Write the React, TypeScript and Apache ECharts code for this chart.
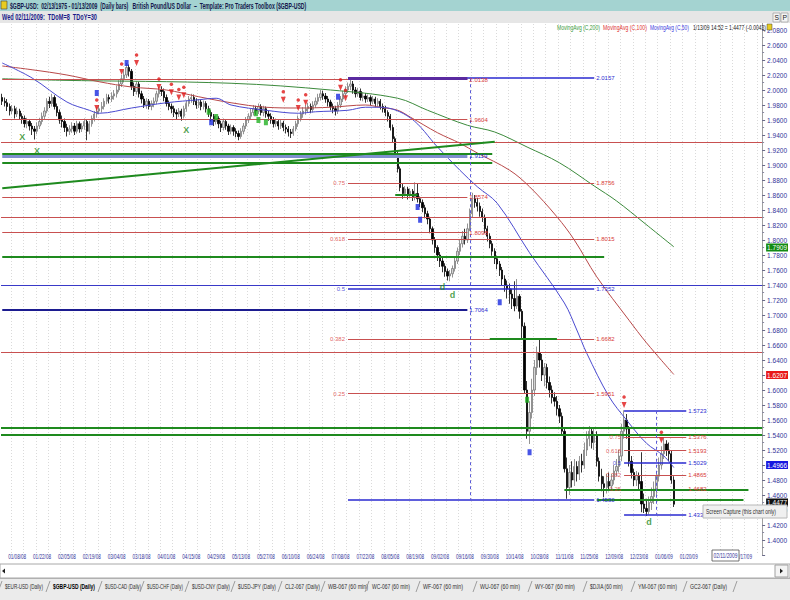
import React, { useEffect, useRef } from 'react';
import * as echarts from 'echarts';

const FONT = "'Liberation Sans', Arial, sans-serif";

const TITLE = '$GBP-USD:  02/13/1975 - 01/13/2009  (Daily bars)   British Pound/US Dollar  \u2013  Template: Pro Traders Toolbox ($GBP-USD)';
const SUBTITLE = 'Wed 02/11/2009:  TDoM=8  TDoY=30';
const LEGEND_MA200 = 'MovingAvg (C,200)';
const LEGEND_MA100 = 'MovingAvg (C,100)';
const LEGEND_MA50 = 'MovingAvg (C,50)';
const LAST_QUOTE = '1/13/09 14:52 = 1.4477 (-0.0043)';
const TOOLTIP_TEXT = 'Screen Capture (this chart only)';
const CURSOR_DATE = '02/11/2009';
const HIDDEN_DATE = '02/17/09';

const xTickLabels = ['01/08/08', '01/22/08', '02/05/08', '02/19/08', '03/04/08', '03/18/08', '04/01/08', '04/15/08', '04/29/08', '05/13/08', '05/27/08', '06/10/08', '06/24/08', '07/08/08', '07/22/08', '08/05/08', '08/19/08', '09/02/08', '09/16/08', '09/30/08', '10/14/08', '10/28/08', '11/11/08', '11/25/08', '12/09/08', '12/23/08', '01/06/09', '01/20/09'];

const tabNames = ['$EUR-USD (Daily)', '$GBP-USD (Daily)', '$USD-CAD (Daily)', '$USD-CHF (Daily)', '$USD-CNY (Daily)', '$USD-JPY (Daily)', 'CL2-067 (Daily)', 'WB-067 (60 min)', 'WC-067 (60 min)', 'WF-067 (60 min)', 'WU-067 (60 min)', 'WY-067 (60 min)', '$DJIA (60 min)', 'YM-067 (60 min)', 'GC2-067 (Daily)'];

// [open, close, low, high]
const ohlcWinter = [
  [1.990,1.985,1.980,1.995],[1.985,1.983,1.978,1.990],[1.983,1.978,1.972,1.988],[1.978,1.972,1.966,1.982],[1.972,1.975,1.968,1.980],
  [1.975,1.968,1.962,1.979],[1.968,1.972,1.964,1.977],[1.972,1.965,1.960,1.975],[1.965,1.962,1.955,1.969],[1.962,1.955,1.950,1.966],
  [1.955,1.958,1.949,1.963],[1.958,1.952,1.946,1.961],[1.952,1.948,1.940,1.956],[1.948,1.945,1.934,1.952],[1.945,1.952,1.941,1.957],
  [1.952,1.958,1.948,1.963],[1.958,1.965,1.954,1.970],[1.965,1.972,1.961,1.977],[1.972,1.985,1.969,1.989],[1.985,1.982,1.976,1.991],
  [1.982,1.990,1.978,1.995],[1.990,1.978,1.974,1.993],[1.978,1.970,1.965,1.982],[1.970,1.960,1.955,1.974],[1.960,1.958,1.950,1.966],
  [1.958,1.950,1.944,1.962],[1.950,1.945,1.938,1.955],[1.945,1.948,1.940,1.953],[1.948,1.952,1.943,1.957],[1.952,1.945,1.940,1.956],
  [1.945,1.955,1.942,1.959],[1.955,1.948,1.943,1.958],[1.948,1.952,1.944,1.956],[1.952,1.958,1.947,1.962],[1.958,1.945,1.933,1.960],
  [1.945,1.955,1.941,1.959],[1.955,1.962,1.951,1.966],[1.962,1.968,1.958,1.972],[1.968,1.972,1.963,1.977],[1.972,1.975,1.968,1.980],
  [1.975,1.978,1.970,1.984],[1.978,1.985,1.974,1.989],[1.985,1.990,1.981,1.995],[1.990,1.988,1.982,1.994],[1.988,1.992,1.984,1.997],
  [1.992,1.995,1.987,2.000],[1.995,2.000,1.990,2.006],[2.000,2.008,1.997,2.013],[2.008,2.015,2.004,2.020],[2.015,2.020,2.010,2.027],
  [2.020,2.030,2.016,2.036],[2.030,2.025,2.018,2.034],[2.025,2.005,2.000,2.028],[2.005,1.998,1.992,2.010],[1.998,2.008,1.994,2.012],
  [2.008,1.995,1.990,2.011],[1.995,1.988,1.982,1.999],[1.988,1.980,1.976,1.992],[1.980,1.985,1.975,1.989],[1.985,1.978,1.974,1.988],
  [1.978,1.982,1.973,1.986],[1.982,1.985,1.977,1.990],[1.985,1.995,1.981,1.999],[1.995,2.000,1.990,2.004],[2.000,1.998,1.992,2.005],
];
const ohlcSpring = [
  [1.998,1.990,1.985,2.002],[1.990,1.982,1.978,1.994],[1.982,1.978,1.973,1.986],[1.978,1.975,1.969,1.982],[1.975,1.970,1.964,1.979],
  [1.970,1.968,1.961,1.974],[1.968,1.972,1.964,1.976],[1.972,1.965,1.959,1.975],[1.965,1.975,1.962,1.979],[1.975,1.982,1.971,1.986],
  [1.982,1.988,1.978,1.992],[1.988,1.990,1.983,1.995],[1.990,1.985,1.980,1.994],[1.985,1.980,1.975,1.989],[1.980,1.984,1.976,1.988],
  [1.984,1.978,1.973,1.987],[1.978,1.982,1.974,1.986],[1.982,1.975,1.970,1.985],[1.975,1.970,1.964,1.979],[1.970,1.965,1.958,1.973],
  [1.965,1.958,1.952,1.968],[1.958,1.962,1.954,1.966],[1.962,1.955,1.949,1.965],[1.955,1.950,1.944,1.959],[1.950,1.958,1.946,1.962],
  [1.958,1.952,1.947,1.961],[1.952,1.945,1.940,1.955],[1.945,1.950,1.941,1.954],[1.950,1.945,1.939,1.953],[1.945,1.942,1.937,1.949],
  [1.942,1.938,1.933,1.946],[1.938,1.945,1.935,1.949],[1.945,1.952,1.941,1.956],[1.952,1.960,1.948,1.964],[1.960,1.965,1.956,1.969],
  [1.965,1.970,1.961,1.975],[1.970,1.975,1.966,1.980],[1.975,1.972,1.967,1.979],[1.972,1.978,1.968,1.982],[1.978,1.970,1.966,1.981],
  [1.970,1.975,1.965,1.979],[1.975,1.968,1.963,1.978],[1.968,1.965,1.959,1.972],[1.965,1.960,1.955,1.969],[1.960,1.955,1.950,1.964],
  [1.955,1.958,1.951,1.962],[1.958,1.952,1.947,1.961],[1.952,1.956,1.948,1.960],[1.956,1.950,1.945,1.959],[1.950,1.948,1.942,1.954],
  [1.948,1.944,1.938,1.952],[1.944,1.942,1.936,1.948],[1.942,1.948,1.939,1.952],[1.948,1.955,1.945,1.959],[1.955,1.962,1.951,1.966],
  [1.962,1.968,1.958,1.972],[1.968,1.972,1.963,1.977],[1.972,1.975,1.967,1.980],[1.975,1.978,1.970,1.983],[1.978,1.974,1.969,1.982],
  [1.974,1.980,1.970,1.985],[1.980,1.985,1.976,1.990],[1.985,1.990,1.981,1.995],[1.990,1.995,1.986,2.000],[1.995,1.992,1.987,1.999],
];
const ohlcSummer = [
  [1.992,1.988,1.983,1.996],[1.988,1.984,1.978,1.992],[1.984,1.978,1.973,1.987],[1.978,1.975,1.969,1.982],[1.975,1.972,1.966,1.979],
  [1.972,1.980,1.968,1.984],[1.980,1.988,1.976,1.992],[1.988,1.995,1.984,1.999],[1.995,2.000,1.991,2.005],[2.000,2.005,1.996,2.010],
  [2.005,2.008,2.000,2.016],[2.008,2.000,1.995,2.012],[2.000,1.995,1.990,2.004],[1.995,1.998,1.991,2.003],[1.998,1.990,1.986,2.002],
  [1.990,1.992,1.985,1.997],[1.992,1.988,1.983,1.996],[1.988,1.990,1.984,1.994],[1.990,1.985,1.980,1.993],[1.985,1.988,1.981,1.992],
  [1.988,1.982,1.977,1.991],[1.982,1.985,1.978,1.989],[1.985,1.978,1.974,1.988],[1.978,1.975,1.970,1.982],[1.975,1.970,1.965,1.979],
  [1.970,1.965,1.958,1.973],[1.965,1.950,1.946,1.968],[1.950,1.935,1.930,1.954],[1.935,1.915,1.910,1.938],[1.915,1.895,1.890,1.918],
  [1.895,1.870,1.865,1.898],[1.870,1.862,1.855,1.875],[1.862,1.868,1.858,1.872],[1.868,1.860,1.854,1.871],[1.860,1.865,1.856,1.869],
  [1.865,1.858,1.852,1.868],[1.858,1.862,1.853,1.877],[1.862,1.855,1.850,1.875],[1.855,1.850,1.844,1.858],[1.850,1.843,1.837,1.854],
  [1.843,1.835,1.829,1.847],[1.835,1.828,1.821,1.839],[1.828,1.815,1.809,1.831],[1.815,1.800,1.794,1.818],[1.800,1.790,1.783,1.804],
  [1.790,1.780,1.772,1.793],[1.780,1.772,1.764,1.784],[1.772,1.765,1.757,1.776],[1.765,1.758,1.751,1.769],[1.758,1.752,1.746,1.762],
  [1.752,1.755,1.745,1.760],[1.755,1.762,1.750,1.766],[1.762,1.772,1.758,1.777],[1.772,1.785,1.768,1.790],[1.785,1.795,1.780,1.800],
  [1.795,1.805,1.790,1.812],[1.805,1.800,1.794,1.815],[1.800,1.815,1.796,1.822],[1.815,1.835,1.812,1.842],[1.835,1.855,1.830,1.863],
  [1.855,1.850,1.843,1.860],[1.850,1.845,1.838,1.856],[1.845,1.838,1.831,1.850],[1.838,1.830,1.824,1.842],[1.830,1.815,1.809,1.834],
  [1.815,1.805,1.798,1.819],[1.805,1.795,1.789,1.809],[1.795,1.785,1.779,1.799],[1.785,1.775,1.768,1.789],[1.775,1.768,1.761,1.779],
];
const ohlcAutumn = [
  [1.768,1.760,1.752,1.772],[1.760,1.748,1.740,1.764],[1.748,1.740,1.731,1.753],[1.740,1.735,1.722,1.746],[1.735,1.728,1.715,1.742],
  [1.728,1.722,1.708,1.735],[1.722,1.712,1.705,1.745],[1.712,1.725,1.708,1.748],[1.725,1.705,1.695,1.728],[1.705,1.685,1.668,1.708],
  [1.685,1.600,1.595,1.690],[1.600,1.545,1.535,1.612],[1.545,1.570,1.528,1.585],[1.570,1.600,1.562,1.615],[1.600,1.630,1.592,1.640],
  [1.630,1.650,1.620,1.658],[1.650,1.640,1.630,1.667],[1.640,1.620,1.612,1.648],[1.620,1.630,1.605,1.636],[1.630,1.610,1.602,1.635],
  [1.610,1.600,1.590,1.618],[1.600,1.590,1.582,1.606],[1.590,1.585,1.578,1.597],[1.585,1.575,1.566,1.592],[1.575,1.565,1.556,1.580],
  [1.565,1.545,1.540,1.570],[1.545,1.495,1.490,1.550],[1.495,1.470,1.455,1.510],[1.470,1.490,1.460,1.500],[1.490,1.480,1.470,1.505],
  [1.480,1.498,1.472,1.508],[1.498,1.488,1.478,1.505],[1.488,1.505,1.480,1.512],[1.505,1.500,1.490,1.515],[1.500,1.520,1.495,1.530],
  [1.520,1.535,1.512,1.545],[1.535,1.545,1.525,1.552],[1.545,1.530,1.522,1.550],[1.530,1.540,1.520,1.548],[1.540,1.505,1.498,1.545],
  [1.505,1.485,1.478,1.510],[1.485,1.475,1.465,1.495],[1.475,1.470,1.457,1.485],[1.470,1.478,1.462,1.488],[1.478,1.472,1.465,1.490],
  [1.472,1.480,1.466,1.488],[1.480,1.492,1.474,1.500],[1.492,1.498,1.485,1.508],[1.498,1.512,1.490,1.520],[1.512,1.545,1.505,1.555],
  [1.545,1.560,1.535,1.573],[1.560,1.548,1.535,1.568],[1.548,1.505,1.498,1.552],[1.505,1.490,1.482,1.512],[1.490,1.480,1.472,1.495],
  [1.480,1.486,1.472,1.492],[1.486,1.475,1.468,1.490],[1.478,1.448,1.437,1.517],[1.448,1.442,1.436,1.462],[1.442,1.438,1.432,1.455],
  [1.438,1.450,1.434,1.458],[1.450,1.458,1.440,1.470],[1.458,1.468,1.448,1.478],[1.468,1.485,1.460,1.492],[1.485,1.500,1.478,1.510],
  [1.500,1.515,1.494,1.525],[1.515,1.528,1.508,1.536],[1.528,1.520,1.512,1.533],[1.520,1.515,1.505,1.530],[1.515,1.480,1.475,1.520],
  [1.480,1.4477,1.444,1.485],
];

// moving averages: [bar index, value]
const ma50Points = [[0,2.036],[12,2.016],[26,1.984],[35,1.973],[39,1.969],[52,1.976],[66,1.983],[79,1.987],[86,1.989],[92,1.980],[106,1.973],[119,1.969],[126,1.971],[139,1.973],[146,1.977],[152,1.977],[164,1.963],[175,1.924],[184,1.893],[191,1.871],[199,1.849],[212,1.783],[226,1.716],[231,1.680],[235,1.649],[244,1.591],[251,1.560],[259,1.529],[266,1.512],[270,1.4966]];
const ma100Points = [[0,2.032],[12,2.027],[26,2.020],[39,2.011],[52,2.004],[66,2.000],[79,1.991],[92,1.983],[106,1.977],[119,1.976],[132,1.977],[146,1.980],[152,1.977],[159,1.973],[164,1.964],[175,1.943],[184,1.929],[191,1.916],[204,1.893],[212,1.871],[223,1.831],[230,1.800],[239,1.751],[252,1.693],[259,1.663],[270,1.6207]];
const ma200Points = [[0,2.015],[23,2.013],[92,2.009],[132,2.000],[159,1.989],[171,1.973],[187,1.953],[198,1.944],[211,1.924],[224,1.903],[238,1.872],[247,1.852],[258,1.823],[270,1.7909]];

const ma200Last = 1.7909;
const ma100Last = 1.6207;
const ma50Last = 1.4966;
const closeLast = 1.4477;

// horizontal levels: [from bar, to bar, price, end label]
const redLevels = [
  [0, 187, 2.0138, '2.0138'], [0, 187, 1.9604, '1.9604'], [0, 187, 1.8574, '1.8574'], [0, 187, 1.8098, '1.8098'],
  [139, 238, 1.8756, '1.8756'], [139, 238, 1.8015, '1.8015'], [139, 238, 1.6682, '1.6682'], [139, 238, 1.5951, '1.5951'],
  [250, 275, 1.5376, '1.5376'], [250, 275, 1.5193, '1.5193'], [250, 275, 1.4865, '1.4865'], [250, 275, 1.4682, '1.4682'],
];
const redFullLevels = [1.9280, 1.8290, 1.6533];
const blueLevels = [
  [139, 238, 2.0157, '2.0157'], [139, 238, 1.7352, '1.7352'], [139, 238, 1.4530, '1.4530'],
  [250, 275, 1.5723, '1.5723'], [250, 275, 1.5029, '1.5029'], [250, 275, 1.4335, '1.4335'],
];
const blueFullLevels = [1.7413];
const navyLevels = [[0, 187, 1.7064, '1.7064']];
const purpleLevels = [[139, 187, 2.0160, '']];
const steelLevels = [[0, 187, 1.9119, '1.9119']];
const greenLevels = [
  [0, 197, 1.9155, ''], [0, 197, 1.9027, ''], [0, 242, 1.7773, ''], [158, 167, 1.8610, ''],
  [196, 223, 1.6690, ''], [226, 300, 1.4670, ''], [239, 298, 1.4533, ''],
];
const greenFullLevels = [1.5547, 1.5400];
const greenTrend = [[0, 1.869], [198, 1.931]];
const dashedVerticals = [[188, 2.0157, 1.4530], [263, 1.5723, 1.4335]];
const redRatioLabels = [[139, 1.8756, '0.75'], [139, 1.8015, '0.618'], [139, 1.6682, '0.382'], [139, 1.5951, '0.25'], [250, 1.5376, '0.75'], [250, 1.5193, '0.618'], [250, 1.4865, '0.382'], [250, 1.4682, '0.25']];
const blueRatioLabels = [[139, 1.7352, '0.5'], [250, 1.5029, '0.5']];

// signal markers: [bar, price]
const redSignals = [[38,1.976],[48,2.024],[54,2.036],[63,2.004],[68,1.997],[71,1.990],[73,1.993],[113,1.987],[119,1.976],[122,1.983],[136,2.003],[138,1.989],[250,1.580],[265,1.533]];
const blueSquares = [[38,1.996],[50,2.036],[84,1.957],[135,1.991],[167,1.844],[168,1.827],[200,1.717],[212,1.517]];
const greenSquares = [[83,1.971],[86,1.964],[102,1.969],[103,1.960],[106,1.957],[211,1.587]];
const greenLetters = [[8,1.937,'X'],[14,1.919,'X'],[74,1.947,'X'],[177,1.737,'d'],[181,1.727,'d'],[260,1.424,'d']];

const CATEGORY_COUNT = 306;

function buildDates(): string[] {
  const out: string[] = [];
  const d = new Date(2007, 11, 31);
  while (out.length < CATEGORY_COUNT) {
    const wd = d.getDay();
    if (wd !== 0 && wd !== 6) {
      const mm = String(d.getMonth() + 1).padStart(2, '0');
      const dd = String(d.getDate()).padStart(2, '0');
      const yy = String(d.getFullYear() % 100).padStart(2, '0');
      out.push(`${mm}/${dd}/${yy}`);
    }
    d.setDate(d.getDate() + 1);
  }
  return out;
}

let measureCtx: CanvasRenderingContext2D | null = null;
function textWidth(text: string, size: number, weight: string): number {
  if (!measureCtx) measureCtx = document.createElement('canvas').getContext('2d');
  if (!measureCtx) return text.length * size * 0.5;
  measureCtx.font = `${weight} ${size}px ${FONT}`;
  return measureCtx.measureText(text).width;
}

// text squeezed horizontally to the width it takes in the reference
function fitText(x: number, y: number, text: string, width: number, size: number, fill: string, weight = 'normal', align = 'left', z = 101) {
  const w = textWidth(text, size, weight);
  const s = w > 0 ? Math.min(1.1, width / w) : 1;
  return {
    type: 'text', x, y, z, scaleX: s,
    style: { text, fill, fontSize: size, fontWeight: weight, fontFamily: FONT, verticalAlign: 'top', align },
  };
}

function segLines(list: any[], color: string, width: number, labelColor: string) {
  return list.map((l) => [
    {
      coord: [l[0], l[2]],
      lineStyle: { color, width, type: 'solid' },
      label: { show: !!l[3], position: 'end', formatter: l[3] || '', color: labelColor, fontSize: 6, fontFamily: FONT, distance: 2 },
    },
    { coord: [l[1], l[2]] },
  ]);
}

function fullLines(list: number[], color: string, width: number) {
  return list.map((p) => ({ yAxis: p, lineStyle: { color, width, type: 'solid' }, label: { show: false } }));
}

export default function App() {
  const ref = useRef<HTMLDivElement>(null);
  useEffect(() => {
    const chart = echarts.init(ref.current!, null, { renderer: 'svg' });
    const dates = buildDates();
    const ohlc = [...ohlcWinter, ...ohlcSpring, ...ohlcSummer, ...ohlcAutumn];

    const levelLines = [
      ...fullLines(redFullLevels, '#c85050', 1),
      ...fullLines(blueFullLevels, '#3a3ac8', 1),
      ...fullLines(greenFullLevels, '#1e8a1e', 2),
      ...segLines(redLevels, '#c85050', 1, '#d83838'),
      ...segLines(blueLevels, '#2a2ad0', 1.6, '#2a2ad0'),
      ...segLines(navyLevels, '#1c1c90', 2, '#2a2ad0'),
      ...segLines(steelLevels, '#7f8fcf', 3, '#2a2ad0'),
      ...segLines(purpleLevels, '#5a2aa0', 3, '#5a2aa0'),
      ...segLines(greenLevels, '#1e8a1e', 2, '#1e8a1e'),
      [
        { coord: greenTrend[0], lineStyle: { color: '#1e8a1e', width: 2, type: 'solid' }, label: { show: false } },
        { coord: greenTrend[1] },
      ],
      ...dashedVerticals.map((v) => [
        { coord: [v[0], v[1]], lineStyle: { color: '#5a5ad8', width: 1, type: [3, 3] }, label: { show: false } },
        { coord: [v[0], v[2]] },
      ]),
    ];

    const boxLabel = (value: number, bg: string) => ({
      yAxis: value,
      lineStyle: { color: 'rgba(0,0,0,0)', width: 0 },
      label: {
        show: true, position: 'end', formatter: value.toFixed(4), color: '#ffffff', backgroundColor: bg,
        fontSize: 6.5, fontFamily: FONT, padding: [1, 1, 0, 1], distance: 4,
      },
    });

    const tabLayout = [[5, 38], [53, 42], [105, 36], [147, 36], [192, 38], [238, 38], [285, 35], [328, 40], [372, 38], [423, 40], [480, 40], [535, 40], [590, 33], [638, 39], [690, 37]];

    const baseGraphic: any[] = [
      { type: 'rect', z: 100, shape: { x: 0, y: 0, width: 790, height: 11 }, style: { fill: '#a4d3d1' } },
      { type: 'rect', z: 101, shape: { x: 1, y: 1, width: 6, height: 8 }, style: { fill: '#e8cc20', stroke: '#404040', lineWidth: 0.6 } },
      fitText(10, 1.5, TITLE, 297, 8.5, '#14184a', 'bold'),
      { type: 'rect', z: 100, shape: { x: 0, y: 11, width: 790, height: 12 }, style: { fill: '#e6e6e6' } },
      fitText(2, 13, SUBTITLE, 95, 8.5, '#1a1a8a', 'bold'),
      { type: 'rect', z: 101, shape: { x: 773, y: 13, width: 7, height: 9 }, style: { fill: '#f4f4f4', stroke: '#909090', lineWidth: 0.6 } },
      { type: 'rect', z: 101, shape: { x: 781, y: 13, width: 7, height: 9 }, style: { fill: '#f4f4f4', stroke: '#909090', lineWidth: 0.6 } },
      fitText(774.5, 14, 'S', 4.5, 7, '#202020'),
      fitText(782.5, 14, 'P', 4.5, 7, '#202020'),
      fitText(557, 24, LEGEND_MA200, 43, 7, '#3a9a3a'),
      fitText(603, 24, LEGEND_MA100, 44, 7, '#e03030'),
      fitText(650, 24, LEGEND_MA50, 39, 7, '#3a3ae0'),
      fitText(693, 24, LAST_QUOTE, 73, 7, '#202020'),
      { type: 'rect', z: 101, shape: { x: 767, y: 24, width: 5, height: 6 }, style: { fill: '#e8cc20', stroke: '#404040', lineWidth: 0.5 } },
      // tooltip
      { type: 'rect', z: 100, shape: { x: 703, y: 505, width: 84, height: 13 }, style: { fill: '#f0f0f0', stroke: '#b8b8b8', lineWidth: 1 } },
      fitText(706, 507, TOOLTIP_TEXT, 70, 8, '#303030'),
      // scrollbar
      { type: 'rect', z: 100, shape: { x: 0, y: 564, width: 790, height: 14 }, style: { fill: '#ffffff', stroke: '#a8a8a8', lineWidth: 1 } },
      { type: 'polygon', z: 101, shape: { points: [[2, 571], [5, 568.5], [5, 573.5]] }, style: { fill: '#202020' } },
      { type: 'rect', z: 101, shape: { x: 775, y: 565, width: 13, height: 12 }, style: { fill: '#f4f4f4', stroke: '#a0a0a0', lineWidth: 1 } },
      { type: 'polygon', z: 102, shape: { points: [[783, 571], [780, 568.5], [780, 573.5]] }, style: { fill: '#202020' } },
      // tabs
      { type: 'rect', z: 100, shape: { x: 0, y: 578, width: 790, height: 22 }, style: { fill: '#ebebeb' } },
      { type: 'line', z: 101, shape: { x1: 0, y1: 578.5, x2: 790, y2: 578.5 }, style: { stroke: '#b0b0b0', lineWidth: 1 } },
      ...tabNames.map((t, i) => fitText(tabLayout[i][0], 582, t, tabLayout[i][1], 7.5, i === 1 ? '#000000' : '#303030', i === 1 ? 'bold' : 'normal')),
      ...tabNames.map((_, i) => ({ type: 'line', z: 101, shape: { x1: tabLayout[i][0] - 7, y1: 592, x2: tabLayout[i][0] - 3, y2: 581 }, style: { stroke: '#8a8a8a', lineWidth: 0.8 } })),
      { type: 'line', z: 101, shape: { x1: 733, y1: 592, x2: 737, y2: 581 }, style: { stroke: '#8a8a8a', lineWidth: 0.8 } },
    ];

    const option: any = {
      animation: false,
      backgroundColor: '#ffffff',
      grid: { left: 1, right: 25, top: 15, bottom: 45 },
      xAxis: {
        type: 'category', data: dates, boundaryGap: true,
        axisLine: { show: false }, axisTick: { show: false },
        axisLabel: { show: false },
        splitLine: { show: true, interval: (i: number) => i % 5 === 4, lineStyle: { color: '#dadada', type: [1, 2], width: 1 } },
      },
      yAxis: {
        type: 'value', position: 'right', min: 1.38, max: 2.10, interval: 0.02,
        axisLine: { show: true, lineStyle: { color: '#a0a0a0' } },
        axisTick: { show: true, length: 3, lineStyle: { color: '#6a6a8a' } },
        minorTick: { show: true, splitNumber: 2, length: 2, lineStyle: { color: '#8a8aa0' } },
        splitLine: { show: false },
        axisLabel: {
          fontSize: 6.5, color: '#333399', fontFamily: FONT, margin: 5,
          formatter: (v: number) => (v < 1.399 || v > 2.081 ? '' : v.toFixed(4)),
        },
      },
      graphic: baseGraphic,
      series: [
        {
          type: 'line', name: 'levels', data: [], z: 2, silent: true,
          markLine: { silent: true, symbol: ['none', 'none'], animation: false, data: levelLines },
        },
        {
          type: 'candlestick', name: '$GBP-USD', data: ohlc, barWidth: 1.8, z: 3,
          itemStyle: { color: '#d4d4d4', color0: '#000000', borderColor: '#7a7a7a', borderColor0: '#000000', borderWidth: 0.8 },
          markLine: { silent: true, symbol: ['none', 'none'], animation: false, data: [boxLabel(closeLast, '#101010')] },
        },
        {
          type: 'line', name: 'MA200', data: ma200Points, smooth: 0.35, showSymbol: false, z: 4,
          lineStyle: { color: '#3c8a3c', width: 1 },
          markLine: { silent: true, symbol: ['none', 'none'], animation: false, data: [boxLabel(ma200Last, '#128a12')] },
        },
        {
          type: 'line', name: 'MA100', data: ma100Points, smooth: 0.35, showSymbol: false, z: 4,
          lineStyle: { color: '#b84848', width: 1 },
          markLine: { silent: true, symbol: ['none', 'none'], animation: false, data: [boxLabel(ma100Last, '#e81818')] },
        },
        {
          type: 'line', name: 'MA50', data: ma50Points, smooth: 0.35, showSymbol: false, z: 4,
          lineStyle: { color: '#4a4ad0', width: 1 },
          markLine: { silent: true, symbol: ['none', 'none'], animation: false, data: [boxLabel(ma50Last, '#1818e0')] },
        },
        {
          type: 'scatter', name: 'ratioRed', data: redRatioLabels, symbolSize: 0, z: 5, silent: true,
          label: { show: true, position: 'left', distance: 3, formatter: (p: any) => p.value[2], color: '#d83838', fontSize: 6, fontFamily: FONT },
        },
        {
          type: 'scatter', name: 'ratioBlue', data: blueRatioLabels, symbolSize: 0, z: 5, silent: true,
          label: { show: true, position: 'left', distance: 3, formatter: (p: any) => p.value[2], color: '#2a2ad0', fontSize: 6, fontFamily: FONT },
        },
        {
          type: 'scatter', name: 'sellArrow', data: redSignals, symbol: 'triangle', symbolRotate: 180, symbolSize: [5, 6], z: 6,
          itemStyle: { color: '#e01818' },
        },
        {
          type: 'scatter', name: 'sellDot', data: redSignals, symbol: 'circle', symbolSize: 3.5, symbolOffset: [0, -8], z: 6,
          itemStyle: { color: '#e01818' },
        },
        {
          type: 'scatter', name: 'blueSq', data: blueSquares, symbol: 'rect', symbolSize: [4, 6], z: 6,
          itemStyle: { color: '#1a2ae0' },
        },
        {
          type: 'scatter', name: 'greenSq', data: greenSquares, symbol: 'rect', symbolSize: [4, 6], z: 6,
          itemStyle: { color: '#22b022' },
        },
        {
          type: 'scatter', name: 'greenLetters', data: greenLetters, symbolSize: 0, z: 6, silent: true,
          label: { show: true, position: 'inside', formatter: (p: any) => p.value[2], color: '#1e8a1e', fontSize: 9, fontWeight: 'bold', fontFamily: FONT },
        },
      ],
    };
    chart.setOption(option);

    // date labels placed through the category axis scale
    const dateLabels: any[] = [];
    xTickLabels.forEach((lbl) => {
      const px = chart.convertToPixel({ xAxisIndex: 0 }, lbl) as number;
      if (typeof px === 'number' && isFinite(px)) {
        dateLabels.push(fitText(px, 553, lbl, 18, 7, '#333399', 'normal', 'center', 90));
      }
    });
    const cursorGraphic: any[] = [
      fitText(752, 553, HIDDEN_DATE, 18, 7, '#333399', 'normal', 'right', 90),
      { type: 'rect', z: 102, shape: { x: 712, y: 550, width: 27, height: 11 }, style: { fill: '#ffffff', stroke: '#505050', lineWidth: 0.8 } },
      fitText(713.5, 552.5, CURSOR_DATE, 24, 7, '#333399', 'normal', 'left', 103),
    ];
    chart.setOption({ graphic: [...baseGraphic, ...dateLabels, ...cursorGraphic] });

    return () => chart.dispose();
  }, []);
  return <div ref={ref} style={{ position: 'fixed', left: 0, top: 0, width: 790, height: 600 }} />;
}
